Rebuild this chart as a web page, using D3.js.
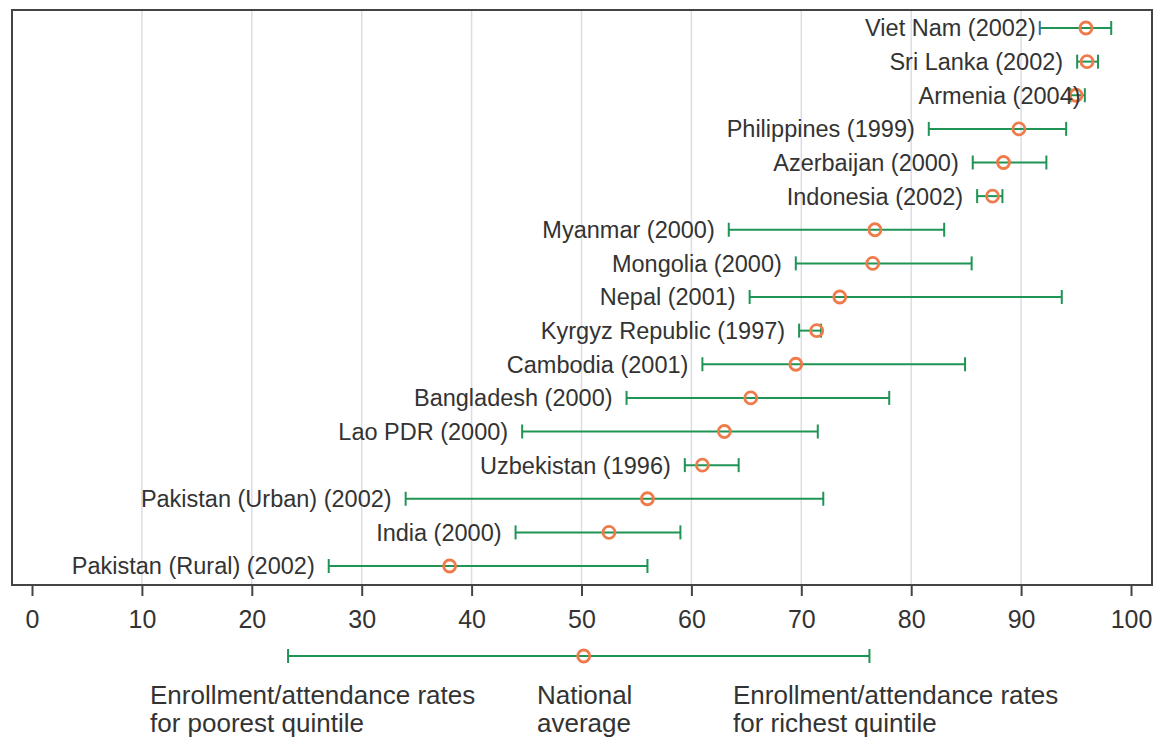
<!DOCTYPE html>
<html>
<head>
<meta charset="utf-8">
<script src="https://cdn.jsdelivr.net/npm/d3@7"></script>
<style>
  body { margin: 0; background: #fff; }
  text { font-family: "Liberation Sans", Arial, sans-serif; fill: #333; }
</style>
</head>
<body>
<div id="chart"></div>
<script>
// countries, top to bottom
var countries = ["Viet Nam (2002)", "Sri Lanka (2002)", "Armenia (2004)", "Philippines (1999)",
  "Azerbaijan (2000)", "Indonesia (2002)", "Myanmar (2000)", "Mongolia (2000)", "Nepal (2001)",
  "Kyrgyz Republic (1997)", "Cambodia (2001)", "Bangladesh (2000)", "Lao PDR (2000)",
  "Uzbekistan (1996)", "Pakistan (Urban) (2002)", "India (2000)", "Pakistan (Rural) (2002)"];
var poorest = [91.7, 95.1, 94.5, 81.6, 85.6, 86.0, 63.4, 69.5, 65.3, 69.8, 61.0, 54.1, 44.6, 59.4, 34.0, 44.0, 27.0];
var national = [95.9, 96.0, 95.0, 89.8, 88.4, 87.4, 76.7, 76.5, 73.5, 71.4, 69.5, 65.4, 63.0, 61.0, 56.0, 52.5, 38.0];
var richest = [98.2, 97.0, 95.8, 94.1, 92.3, 88.3, 83.0, 85.5, 93.7, 71.8, 84.9, 78.0, 71.5, 64.3, 72.0, 59.0, 56.0];
var xTicks = [0, 10, 20, 30, 40, 50, 60, 70, 80, 90, 100];
// legend example bar
var legendVals = {low: 23.3, mid: 50.2, high: 76.2};
var legendText = [
  ["Enrollment/attendance rates", "for poorest quintile"],
  ["National", "average"],
  ["Enrollment/attendance rates", "for richest quintile"]
];

var w = 1159, h = 740;
var green = "#1f9455", orange = "#ef7a4a";

var data = countries.map(function(c, i){
  return {name: c, lo: poorest[i], mid: national[i], hi: richest[i]};
});

var svg = d3.select("#chart").append("svg")
  .attr("width", w)
  .attr("height", h);

var x = d3.scaleLinear().domain([0, 100]).range([32, 1131]);
var frame = {left: 12, right: 1152, top: 10, bot: 585};

var y = d3.scalePoint()
  .domain(countries)
  .range([28, 566]);

// grid
svg.append("g").selectAll("line")
  .data(xTicks.slice(1, -1))
  .enter().append("line")
    .attr("x1", d => x(d)).attr("x2", d => x(d))
    .attr("y1", frame.top).attr("y2", frame.bot)
    .style("stroke", "#dcdce6")
    .style("stroke-width", 1.5);

// frame
svg.append("rect")
  .attr("x", frame.left).attr("y", frame.top)
  .attr("width", frame.right - frame.left)
  .attr("height", frame.bot - frame.top)
  .style("fill", "none")
  .style("stroke", "#444")
  .style("stroke-width", 2);

// x axis
var xAxis = d3.axisBottom(x).tickValues(xTicks).tickSize(11).tickPadding(14);
var ax = svg.append("g")
  .attr("transform", "translate(0," + frame.bot + ")")
  .call(xAxis);
ax.select(".domain").remove();
ax.selectAll("line").style("stroke", "#444").style("stroke-width", 2);
ax.selectAll("text")
  .style("font-size", "25px")
  .style("font-family", "'Liberation Sans', Arial, sans-serif")
  .attr("fill", "#333");

function drawBar(g, lo, mid, hi, yy, loColor){
  g.append("line")
    .attr("x1", x(lo)).attr("x2", x(hi))
    .attr("y1", yy).attr("y2", yy)
    .style("stroke", green).style("stroke-width", 2);
  g.append("line")
    .attr("x1", x(lo)).attr("x2", x(lo))
    .attr("y1", yy - 7).attr("y2", yy + 7)
    .style("stroke", loColor || green).style("stroke-width", 2);
  g.append("line")
    .attr("x1", x(hi)).attr("x2", x(hi))
    .attr("y1", yy - 7).attr("y2", yy + 7)
    .style("stroke", green).style("stroke-width", 2);
  g.append("circle")
    .attr("cx", x(mid)).attr("cy", yy)
    .attr("r", 6)
    .style("fill", "none")
    .style("stroke", orange)
    .style("stroke-width", 2.8);
}

var rows = svg.append("g");
data.forEach(function(d, i){
  var g = rows.append("g");
  // first row has a blue low cap in the original
  drawBar(g, d.lo, d.mid, d.hi, y(d.name), i == 0 ? "#2e78a8" : null);
  var gap = 14;
  if (i == 0) gap = 4;
  if (i == 2) gap = -10;
  g.append("text")
    .attr("x", x(d.lo) - gap)
    .attr("y", y(d.name))
    .attr("dy", "0.36em")
    .style("text-anchor", "end")
    .style("font-size", "23.5px")
    .text(d.name);
});

// legend
var lg = svg.append("g");
drawBar(lg, legendVals.low, legendVals.mid, legendVals.high, 656);
var legendX = [150, 537, 733];
legendText.forEach(function(lines, i){
  lines.forEach(function(t, j){
    lg.append("text")
      .attr("x", legendX[i])
      .attr("y", 695 + j * 28)
      .attr("dy", "0.36em")
      .style("font-size", "26px")
      .text(t);
  });
});
</script>
</body>
</html>
